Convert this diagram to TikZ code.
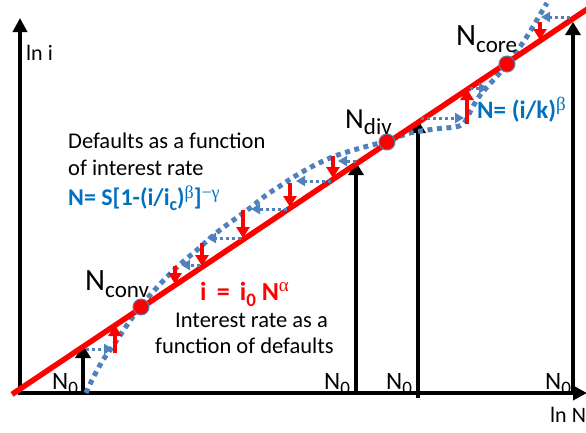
\documentclass[tikz,border=0pt]{standalone}
\usepackage{fontspec}
\setmainfont{Carlito}
\newfontfamily\grk{Liberation Serif}
\usetikzlibrary{arrows.meta}
\definecolor{dotblue}{HTML}{4F81BD}
\definecolor{txtblue}{HTML}{0070C0}
\definecolor{pred}{HTML}{FF0000}
\newcommand\fs[1]{\fontsize{#1}{#1}\selectfont}
\newcommand\lowr[3]{\raisebox{#1}{\fs{#2}#3}}
\newcommand\gr[1]{{\grk\mdseries #1}}
\tikzset{
  axis/.style={line width=4pt, -{Triangle[length=14pt,width=14pt]}},
  uparrow/.style={line width=4pt, -{Triangle[length=13pt,width=15pt]}},
  redline/.style={line width=5.5pt, pred},
  redarrow/.style={line width=4pt, pred, -{Triangle[length=11pt,width=13pt]}},
  thickdot/.style={line width=5pt, dotblue, dash pattern=on 5pt off 4.5pt},
  thindot/.style={line width=3pt, dotblue, dash pattern=on 3pt off 3pt, -{Triangle[length=9pt,width=10pt]}},
  fixdot/.style={circle, fill=pred, draw=dotblue, line width=1pt, minimum size=16pt, inner sep=0pt},
  lbl/.style={anchor=base west, inner sep=0pt, font=\fs{22}},
}
\begin{document}
\begin{tikzpicture}[x=1pt,y=-1pt]
\useasboundingbox (0,0) rectangle (586,432);
% coordinates
\coordinate (yb) at (20,395);
\coordinate (yt) at (20,18);
\coordinate (xl) at (18,393);
\coordinate (xr) at (587,393);
\coordinate (rl0) at (12,394.3);
\coordinate (rl1) at (590,7.3);
% N_0 labels
\node[lbl, font=\fs{25}] (n0a) at (52,389) {N\lowr{-5pt}{19}{0}};
\node[lbl, font=\fs{25}] (n0b) at (324,389) {N\lowr{-5pt}{19}{0}};
\node[lbl, font=\fs{25}] (n0c) at (386,389) {N\lowr{-5pt}{19}{0}};
\node[lbl, font=\fs{25}] (n0d) at (545,389) {N\lowr{-5pt}{19}{0}};
% axes
\draw[axis] (yb) -- (yt);
\draw[axis] (xl) -- (xr);
% black arrows
\coordinate (b1s) at (83,393); \coordinate (b1e) at (83,345);
\coordinate (b2s) at (356,393); \coordinate (b2e) at (356,162);
\coordinate (b3s) at (418,398); \coordinate (b3e) at (418,120);
\coordinate (b4s) at (573,393); \coordinate (b4e) at (573,22);
\draw[uparrow] (b1s) -- (b1e);
\draw[uparrow] (b2s) -- (b2e);
\draw[uparrow] (b3s) -- (b3e);
\draw[uparrow] (b4s) -- (b4e);
% blue curve
\draw[thickdot] plot[smooth, tension=0.55] coordinates {
 (86,393) (93,378) (103,360) (113,346) (123,331) (132,318) (141,306)
 (152,293) (163,281) (174,270) (185,260) (197,250) (208,240) (220,230)
 (235,219) (250,208) (265,196) (280,186) (297,175) (315,165) (335,156)
 (357,149) (376,144) (390,140) (410,133) (435,129) (455,127) (464,123)
 (470,112) (478,98) (488,86) (498,75) (507,64) (517,51) (526,38) (534,25)
 (541,13) (547,3)};
% red line
\draw[redline] (rl0) -- (rl1);
% red arrows
\coordinate (r1s) at (115,353); \coordinate (r1e) at (115,325);
\coordinate (r2s) at (175,266); \coordinate (r2e) at (175,284);
\coordinate (r3s) at (202,243); \coordinate (r3e) at (202,266);
\coordinate (r4s) at (243,210); \coordinate (r4e) at (243,238);
\coordinate (r5s) at (290,183); \coordinate (r5e) at (290,207);
\coordinate (r6s) at (333,156); \coordinate (r6e) at (333,178);
\coordinate (r7s) at (467,124); \coordinate (r7e) at (467,89);
\coordinate (r8s) at (540,22); \coordinate (r8e) at (540,40);
\foreach \i in {1,...,8} {\draw[redarrow] (r\i s) -- (r\i e);}
% thin dotted arrows
\coordinate (h1s) at (356,161); \coordinate (h1e) at (338,161);
\coordinate (h2s) at (331,181); \coordinate (h2e) at (296,181);
\coordinate (h3s) at (287,209); \coordinate (h3e) at (251,209);
\coordinate (h4s) at (241,238); \coordinate (h4e) at (207,238);
\coordinate (h5s) at (200,265); \coordinate (h5e) at (181,265);
\coordinate (h6s) at (86,349); \coordinate (h6e) at (113,349);
\coordinate (h7s) at (421,118); \coordinate (h7e) at (464,118);
\coordinate (h8s) at (470,88); \coordinate (h8e) at (488,88);
\coordinate (h9s) at (570,17); \coordinate (h9e) at (541,17);
\foreach \i in {1,...,9} {\draw[thindot] (h\i s) -- (h\i e);}
% fixed points
\node[fixdot] (conv) at (141,307) {};
\node[fixdot] (div) at (387,142) {};
\node[fixdot] (core) at (507,64) {};
% labels
\node[lbl, font=\fs{31}] (lconv) at (85,290) {N\lowr{-7pt}{23}{conv}};
\node[lbl, font=\fs{29}] (ldiv) at (345,128) {N\lowr{-6pt}{23}{div}};
\node[lbl, font=\fs{31}] (lcore) at (456,45) {N\lowr{-7pt}{23}{core}};
\node[lbl, font=\fs{22}] (lni) at (26,60) {ln i};
\node[lbl, font=\fs{22}] (lnN) at (550,422) {ln N};
\node[lbl, font=\fs{22.5}] (d1) at (68,148) {Defaults as a function};
\node[lbl, font=\fs{22.5}] (d2) at (68,175) {of interest rate};
\node[lbl, font=\fs{24}\bfseries, text=txtblue] (f1) at (68,205)
  {N= S[1-(i/i\lowr{-5pt}{18}{c})\lowr{7pt}{18}{\gr{β}}]\lowr{7pt}{18}{\gr{−γ}}};
\node[lbl, font=\fs{26}\bfseries, text=pred] (f2) at (200,300)
  {i\,\ =\ \,i\lowr{-6pt}{19}{0} N\lowr{9pt}{19}{\gr{α}}};
\node[lbl, font=\fs{22.5}] (i1) at (175,327) {Interest rate as a};
\node[lbl, font=\fs{22.5}] (i2) at (155,353) {function of defaults};
\node[lbl, font=\fs{25}\bfseries, text=txtblue] (f3) at (477,118)
  {N= (i/k)\lowr{8pt}{19}{\gr{β}}};
\end{tikzpicture}
\end{document}
